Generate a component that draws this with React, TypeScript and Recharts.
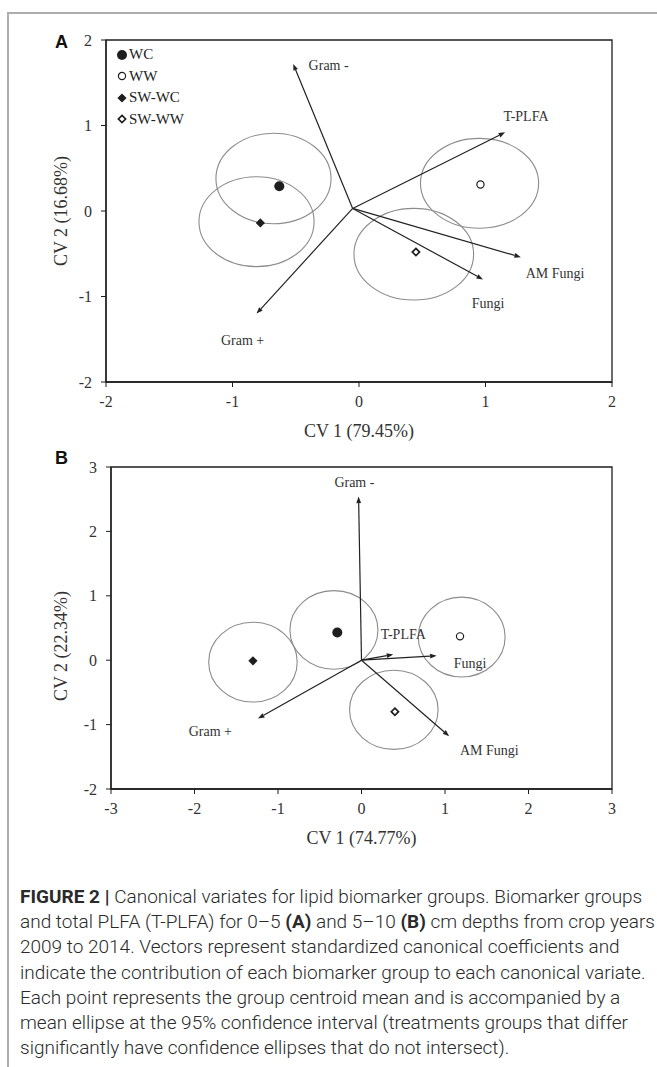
import React from "react";
import {
  ScatterChart,
  Scatter,
  XAxis,
  YAxis,
  ReferenceArea,
  ReferenceLine,
  ReferenceDot,
  Legend,
  Label,
} from "recharts";

// treatment groups (same order in both panels)
const groups = ["WC", "WW", "SW-WC", "SW-WW"];
const markerKinds = ["disc", "ring", "diamond", "openDiamond"];

// biomarker vectors
const vectorNames = ["Gram -", "T-PLFA", "AM Fungi", "Fungi", "Gram +"];

// ---- panel A (0-5 cm) ----
const aCentroidX = [-0.63, 0.96, -0.78, 0.45];
const aCentroidY = [0.29, 0.31, -0.14, -0.48];
const aEllipseX = [-0.676, 0.953, -0.81, 0.433];
const aEllipseY = [0.38, 0.324, -0.125, -0.505];
const aEllipseRx = [0.455, 0.467, 0.455, 0.473];
const aEllipseRy = [0.53, 0.526, 0.526, 0.536];
const aOrigin = { x: -0.05, y: 0.03 };
const aVectorX = [-0.52, 1.155, 1.28, 0.98, -0.81];
const aVectorY = [1.72, 0.92, -0.54, -0.8, -1.2];
const aLabelX = [-0.24, 1.32, 1.55, 1.02, -0.92];
const aLabelY = [1.7, 1.1, -0.73, -1.08, -1.52];
const aTicksX = [-2, -1, 0, 1, 2];
const aTicksY = [-2, -1, 0, 1, 2];

// ---- panel B (5-10 cm) ----
const bCentroidX = [-0.29, 1.18, -1.3, 0.4];
const bCentroidY = [0.43, 0.37, -0.01, -0.8];
const bEllipseX = [-0.33, 1.2, -1.3, 0.387];
const bEllipseY = [0.47, 0.36, -0.03, -0.77];
const bEllipseRx = [0.527, 0.52, 0.53, 0.53];
const bEllipseRy = [0.61, 0.62, 0.62, 0.615];
const bOrigin = { x: 0, y: 0 };
const bVectorX = [-0.035, 0.38, 1.05, 0.9, -1.24];
const bVectorY = [2.54, 0.09, -1.18, 0.07, -0.905];
const bLabelX = [-0.085, 0.5, 1.53, 1.3, -1.81];
const bLabelY = [2.76, 0.4, -1.4, -0.05, -1.1];
const bTicksX = [-3, -2, -1, 0, 1, 2, 3];
const bTicksY = [-2, -1, 0, 1, 2, 3];

const serif = "'Liberation Serif', 'Times New Roman', serif";
const ink = "#1e1e1e";

const Marker = ({ kind, cx, cy }: any) => {
  if (cx == null || cy == null) return null;
  if (kind === "disc") return <circle cx={cx} cy={cy} r={5} fill={ink} />;
  if (kind === "ring")
    return <circle cx={cx} cy={cy} r={3.6} fill="#fff" stroke={ink} strokeWidth={1.2} />;
  const s = 4.6;
  const pts = `${cx},${cy - s} ${cx + s},${cy} ${cx},${cy + s} ${cx - s},${cy}`;
  if (kind === "diamond") return <polygon points={pts} fill={ink} />;
  const o = 3.6;
  const pts2 = `${cx},${cy - o} ${cx + o},${cy} ${cx},${cy + o} ${cx - o},${cy}`;
  return <polygon points={pts2} fill="#fff" stroke={ink} strokeWidth={1.7} />;
};

const EllipseShape = (p: any) => {
  const { x, y, width, height } = p;
  if (x == null) return null;
  return (
    <ellipse
      cx={x + width / 2}
      cy={y + height / 2}
      rx={Math.abs(width) / 2}
      ry={Math.abs(height) / 2}
      fill="none"
      stroke="#8c8c8c"
      strokeWidth={1.1}
    />
  );
};

const ArrowShape = (p: any) => {
  const { x1, y1, x2, y2 } = p;
  if (x1 == null) return null;
  const a = Math.atan2(y2 - y1, x2 - x1);
  const L = 6.5;
  const W = 2.4;
  const bx = x2 - L * Math.cos(a);
  const by = y2 - L * Math.sin(a);
  const pts = `${x2},${y2} ${bx - W * Math.sin(a)},${by + W * Math.cos(a)} ${bx + W * Math.sin(a)},${by - W * Math.cos(a)}`;
  return (
    <g>
      <line x1={x1} y1={y1} x2={bx} y2={by} stroke="#222" strokeWidth={1.2} />
      <polygon points={pts} fill="#222" />
    </g>
  );
};

const textShape = (text: string) => (p: any) =>
  (
    <text
      x={p.cx}
      y={p.cy}
      textAnchor="middle"
      dominantBaseline="central"
      fontFamily={serif}
      fontSize={14}
      fill="#333"
    >
      {text}
    </text>
  );

const xTitle = (text: string, dy: number) => (props: any) => {
  const vb = props.viewBox || {};
  return (
    <text
      x={vb.x + vb.width / 2}
      y={vb.y + dy}
      textAnchor="middle"
      dominantBaseline="central"
      fontFamily={serif}
      fontSize={18}
      fill="#333"
    >
      {text}
    </text>
  );
};

const yTitle = (text: string, x: number, shift: number) => (props: any) => {
  const vb = props.viewBox || {};
  const cy = vb.y + vb.height / 2 + shift;
  return (
    <text
      x={x}
      y={cy}
      transform={`rotate(-90 ${x} ${cy})`}
      textAnchor="middle"
      dominantBaseline="central"
      fontFamily={serif}
      fontSize={18}
      fill="#333"
    >
      {text}
    </text>
  );
};

const LegendBox = () => (
  <div style={{ fontFamily: serif, fontSize: 15, color: "#222" }}>
    {groups.map((g, i) => (
      <div key={g} style={{ display: "flex", alignItems: "center", height: 21.5 }}>
        <svg width={12} height={14} style={{ marginRight: 1 }}>
          <Marker kind={markerKinds[i]} cx={6} cy={7} />
        </svg>
        <span>{g}</span>
      </div>
    ))}
  </div>
);

const tickStyle = { fontFamily: serif, fontSize: 16, fill: "#333" };

interface PanelProps {
  top: number;
  height: number;
  marginTop: number;
  yWidth: number;
  xTicks: number[];
  yTicks: number[];
  cx: number[];
  cy: number[];
  ex: number[];
  ey: number[];
  erx: number[];
  ery: number[];
  origin: { x: number; y: number };
  vx: number[];
  vy: number[];
  lx: number[];
  ly: number[];
  xLabel: string;
  yLabel: string;
  yShift: number;
  legend?: boolean;
}

const Panel = (p: PanelProps) => {
  const xDom = [p.xTicks[0], p.xTicks[p.xTicks.length - 1]];
  const yDom = [p.yTicks[0], p.yTicks[p.yTicks.length - 1]];
  return (
    <div style={{ position: "absolute", left: 0, top: p.top }}>
      <ScatterChart
        width={657}
        height={p.height}
        margin={{ top: p.marginTop, right: 45, bottom: 0, left: 0 }}
      >
        <XAxis
          type="number"
          dataKey="x"
          domain={xDom}
          ticks={p.xTicks}
          allowDataOverflow
          height={60}
          tick={tickStyle}
          tickSize={5}
          tickMargin={9}
          axisLine={{ stroke: ink, strokeWidth: 1.3 }}
          tickLine={{ stroke: ink }}
        >
          <Label content={xTitle(p.xLabel, 49)} />
        </XAxis>
        <YAxis
          type="number"
          dataKey="y"
          domain={yDom}
          ticks={p.yTicks}
          allowDataOverflow
          width={p.yWidth}
          tick={tickStyle}
          tickSize={5}
          tickMargin={9}
          axisLine={{ stroke: ink, strokeWidth: 1.3 }}
          tickLine={{ stroke: ink }}
        >
          <Label content={yTitle(p.yLabel, 61, p.yShift)} />
        </YAxis>
        <ReferenceArea
          x1={xDom[0]}
          x2={xDom[1]}
          y1={yDom[0]}
          y2={yDom[1]}
          fill="none"
          stroke={ink}
          strokeWidth={1.3}
          fillOpacity={0}
        />
        {groups.map((g, i) => (
          <ReferenceArea
            key={"e" + g}
            x1={p.ex[i] - p.erx[i]}
            x2={p.ex[i] + p.erx[i]}
            y1={p.ey[i] - p.ery[i]}
            y2={p.ey[i] + p.ery[i]}
            shape={EllipseShape}
          />
        ))}
        {vectorNames.map((v, i) => (
          <ReferenceLine
            key={"v" + v}
            segment={[p.origin, { x: p.vx[i], y: p.vy[i] }]}
            shape={ArrowShape}
          />
        ))}
        {vectorNames.map((v, i) => (
          <ReferenceDot
            key={"l" + v}
            x={p.lx[i]}
            y={p.ly[i]}
            r={0}
            shape={textShape(v)}
          />
        ))}
        {groups.map((g, i) => (
          <Scatter
            key={g}
            name={g}
            data={[{ x: p.cx[i], y: p.cy[i] }]}
            isAnimationActive={false}
            shape={(sp: any) => <Marker kind={markerKinds[i]} cx={sp.cx} cy={sp.cy} />}
          />
        ))}
        {p.legend && (
          <Legend
            layout="vertical"
            align="center"
            verticalAlign="middle"
            wrapperStyle={{ left: 116, top: 44, width: 90 }}
            content={() => <LegendBox />}
          />
        )}
      </ScatterChart>
    </div>
  );
};

const captionLines = [
  "Canonical variates for lipid biomarker groups. Biomarker groups",
  "and total PLFA (T-PLFA) for 0\u20135 ",
  "2009 to 2014. Vectors represent standardized canonical coefficients and",
  "indicate the contribution of each biomarker group to each canonical variate.",
  "Each point represents the group centroid mean and is accompanied by a",
  "mean ellipse at the 95% confidence interval (treatments groups that differ",
  "significantly have confidence ellipses that do not intersect).",
];

export default function App() {
  const letterStyle: React.CSSProperties = {
    position: "absolute",
    fontFamily: "'Liberation Sans', Arial, sans-serif",
    fontWeight: 700,
    fontSize: 18,
    color: "#111",
    lineHeight: "20px",
  };
  return (
    <div
      style={{
        position: "absolute",
        left: 0,
        top: 0,
        width: 657,
        height: 1067,
        background: "#fff",
        overflow: "hidden",
      }}
    >
      <div
        style={{
          position: "absolute",
          left: 7,
          top: 12,
          width: 700,
          height: 1100,
          borderTop: "2px solid #adadad",
          borderLeft: "2px solid #adadad",
        }}
      />
      <Panel
        top={0}
        height={442}
        marginTop={40}
        yWidth={106}
        xTicks={aTicksX}
        yTicks={aTicksY}
        cx={aCentroidX}
        cy={aCentroidY}
        ex={aEllipseX}
        ey={aEllipseY}
        erx={aEllipseRx}
        ery={aEllipseRy}
        origin={aOrigin}
        vx={aVectorX}
        vy={aVectorY}
        lx={aLabelX}
        ly={aLabelY}
        xLabel="CV 1 (79.45%)"
        yLabel="CV 2 (16.68%)"
        yShift={0}
        legend
      />
      <Panel
        top={420}
        height={429}
        marginTop={47}
        yWidth={111}
        xTicks={bTicksX}
        yTicks={bTicksY}
        cx={bCentroidX}
        cy={bCentroidY}
        ex={bEllipseX}
        ey={bEllipseY}
        erx={bEllipseRx}
        ery={bEllipseRy}
        origin={bOrigin}
        vx={bVectorX}
        vy={bVectorY}
        lx={bLabelX}
        ly={bLabelY}
        xLabel="CV 1 (74.77%)"
        yLabel="CV 2 (22.34%)"
        yShift={18}
      />
      <div style={{ ...letterStyle, left: 55, top: 32 }}>A</div>
      <div style={{ ...letterStyle, left: 55, top: 448 }}>B</div>
      <div
        style={{
          position: "absolute",
          left: 20,
          top: 884,
          width: 635,
          fontFamily: "Roboto, 'Liberation Sans', sans-serif",
          fontWeight: 300,
          fontSize: 19,
          lineHeight: "25.2px",
          color: "#2a2a2a",
          whiteSpace: "nowrap",
        }}
      >
        <div>
          <span style={{ fontWeight: 700 }}>FIGURE 2 | </span>
          {captionLines[0]}
        </div>
        <div>
          {captionLines[1]}
          <b style={{ fontWeight: 700 }}>(A)</b> and 5{"\u2013"}10 <b style={{ fontWeight: 700 }}>(B)</b> cm depths from crop years
        </div>
        {captionLines.slice(2).map((l) => (
          <div key={l}>{l}</div>
        ))}
      </div>
    </div>
  );
}
